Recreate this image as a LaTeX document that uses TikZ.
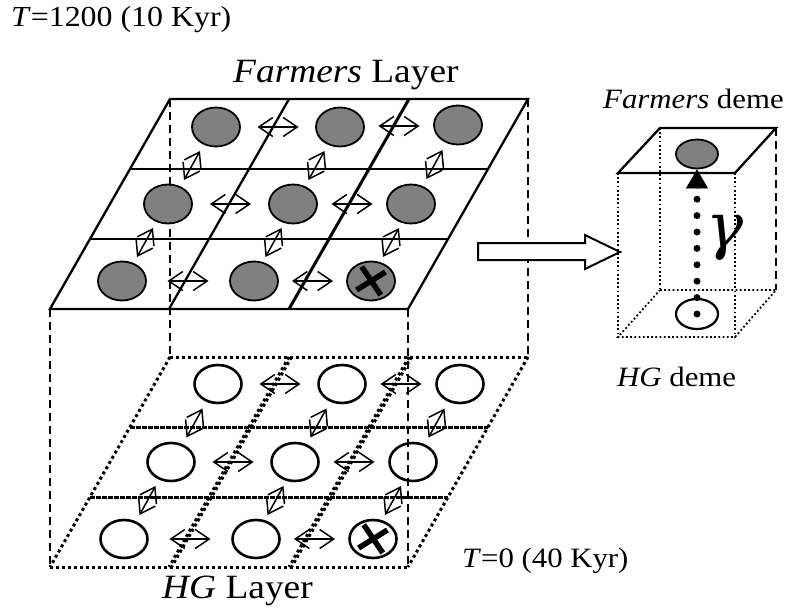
\documentclass[tikz,border=0pt]{standalone}
\usepackage{fontspec}
\setmainfont{Liberation Serif}[FakeStretch=1.1]
\newfontfamily\gfont{DejaVu Serif}
\usetikzlibrary{arrows.meta,calc,shapes.geometric}
\definecolor{fgray}{RGB}{128,128,128}
\begin{document}
\begin{tikzpicture}[x=1pt,y=-1pt,
  lay/.style={line width=2.3pt},
  dotl/.style={line width=3pt,dash pattern=on 3pt off 3pt},
  thindot/.style={line width=1.8pt,dash pattern=on 1.8pt off 2.4pt},
  dashv/.style={line width=2.4pt,dash pattern=on 8pt off 5pt},
  fcirc/.style={ellipse,draw,line width=1.8pt,fill=fgray,minimum width=48pt,minimum height=39pt,inner sep=0pt},
  hcirc/.style={ellipse,draw,line width=2.6pt,minimum width=47pt,minimum height=38pt,inner sep=0pt},
  marr/.style={line width=1.5pt,{Straight Barb[length=14pt,width=19pt]}-{Straight Barb[length=14pt,width=19pt]}},
  lbl/.style={anchor=base west,inner sep=0pt},
  crossl/.style={line width=5.5pt},
]
\useasboundingbox (0,0) rectangle (790,610);

% ---------- vertical dashed edges of the block
\draw[dashv] (170,99) -- (170,357);
\draw[dashv] (528,99) -- (528,357);
\draw[dashv] (50,309) -- (50,567);
\draw[dashv] (408,309) -- (408,567);

% ---------- Farmers layer (solid)
\draw[lay] (170,99) -- (528,99) -- (408,309) -- (50,309) -- cycle;
\draw[lay] (130,169) -- (488,169);
\draw[lay] (90,239) -- (448,239);
\draw[lay] (289,99) -- (169,309);
\draw[line width=3pt] (409,99) -- (289,309);

% ---------- HG layer (dotted)
\draw[dotl] (170,357) -- (528,357);
\draw[dotl] (50,567) -- (408,567);
\draw[dotl] (170,357) -- (50,567);
\draw[dotl] (528,357) -- (408,567);
\draw[dotl] (130,427) -- (488,427);
\draw[dotl] (131.5,427) -- (488,427);
\draw[dotl] (90,497) -- (448,497);
\draw[dotl] (91.5,497) -- (448,497);
\draw[dotl] (289,357) -- (169,567);
\draw[dotl] (291.5,357) -- (171.5,567);
\draw[dotl] (409,357) -- (289,567);
\draw[dotl] (411.5,357) -- (291.5,567);

% ---------- Farmers demes
\node[fcirc] (f11) at (216,127) {};
\node[fcirc] (f12) at (340,127) {};
\node[fcirc] (f13) at (458,125) {};
\node[fcirc] (f21) at (168,204) {};
\node[fcirc] (f22) at (293,204) {};
\node[fcirc] (f23) at (411,204) {};
\node[fcirc] (f31) at (122,281) {};
\node[fcirc] (f32) at (254,281) {};
\node[fcirc] (f33) at (371,281) {};

% ---------- HG demes
\node[hcirc] (h11) at (218,384) {};
\node[hcirc] (h12) at (342,384) {};
\node[hcirc] (h13) at (460,384) {};
\node[hcirc] (h21) at (171,462) {};
\node[hcirc] (h22) at (295,462) {};
\node[hcirc] (h23) at (413,462) {};
\node[hcirc] (h31) at (124,539) {};
\node[hcirc] (h32) at (256,539) {};
\node[hcirc] (h33) at (373,539) {};

% ---------- crosses
\foreach \c in {f33,h33}{
  \draw[crossl] ($(\c)+(-32:17)$) -- ($(\c)+(148:17)$);
  \draw[crossl] ($(\c)+(55:17)$) -- ($(\c)+(237:17)$);
}

% ---------- migration arrows
\foreach \L in {f,h}{
  \foreach \a/\b in {11/12,12/13,21/22,22/23,31/32,32/33}{
    \draw[marr] ($(\L\a)!0.5!(\L\b)+(-20.5,0)$) -- ($(\L\a)!0.5!(\L\b)+(20.5,0)$);
  }
  \foreach \a/\b in {11/21,12/22,13/23,21/31,22/32,23/33}{
    \draw[marr] ($(\L\a)!0.5!(\L\b)+(-8,14.5)$) -- ($(\L\a)!0.5!(\L\b)+(8,-14.5)$);
  }
}

% ---------- block arrow
\draw[line width=2pt,fill=white] (478,243) -- (585,243) -- (585,235) -- (620,252) -- (585,269) -- (585,260) -- (478,260) -- cycle;

% ---------- single deme box
\draw[thindot] (660,128) -- (660,290);
\draw[dashv] (776,128) -- (776,290);
\draw[thindot] (618,173) -- (618,337);
\draw[thindot] (735,173) -- (735,337);
\draw[thindot] (660,290) -- (776,290) -- (735,337) -- (618,337) -- cycle;
\draw[lay] (618,173) -- (735,173) -- (776,128) -- (660,128) -- cycle;

\node[fcirc,minimum width=42pt,minimum height=29pt] (fd) at (697,154) {};
\node[hcirc,minimum width=42pt,minimum height=30pt,line width=2.2pt] (hd) at (697,314) {};
\draw[line width=7pt,line cap=round,dash pattern=on 0pt off 16.4pt,shorten >=20pt] (hd.center) -- (fd.south);
\draw[line width=0.5pt,-{Triangle[length=19pt,width=22pt]}] ($(fd.south)+(0,19)$) -- (fd.south);
\node (gam) at (725,238) {\gfont\itshape\fontsize{62}{62}\selectfont γ};

% ---------- labels
\node[lbl] (tt) at (11,27) {\fontsize{29}{30}\selectfont\textit{T}=1200 (10 Kyr)};
\node[lbl] (fl) at (233,82) {\fontsize{34}{36}\selectfont\textit{Farmers} Layer};
\node[lbl] (hl) at (162,598) {\fontsize{34}{36}\selectfont\textit{HG} Layer};
\node[lbl] (t0) at (462,567) {\fontsize{28}{30}\selectfont\textit{T}=0 (40 Kyr)};
\node[lbl] (fdl) at (603,108) {\fontsize{28}{30}\selectfont\textit{Farmers} deme};
\node[lbl] (hdl) at (617,386) {\fontsize{28}{30}\selectfont\textit{HG} deme};
\end{tikzpicture}
\end{document}
